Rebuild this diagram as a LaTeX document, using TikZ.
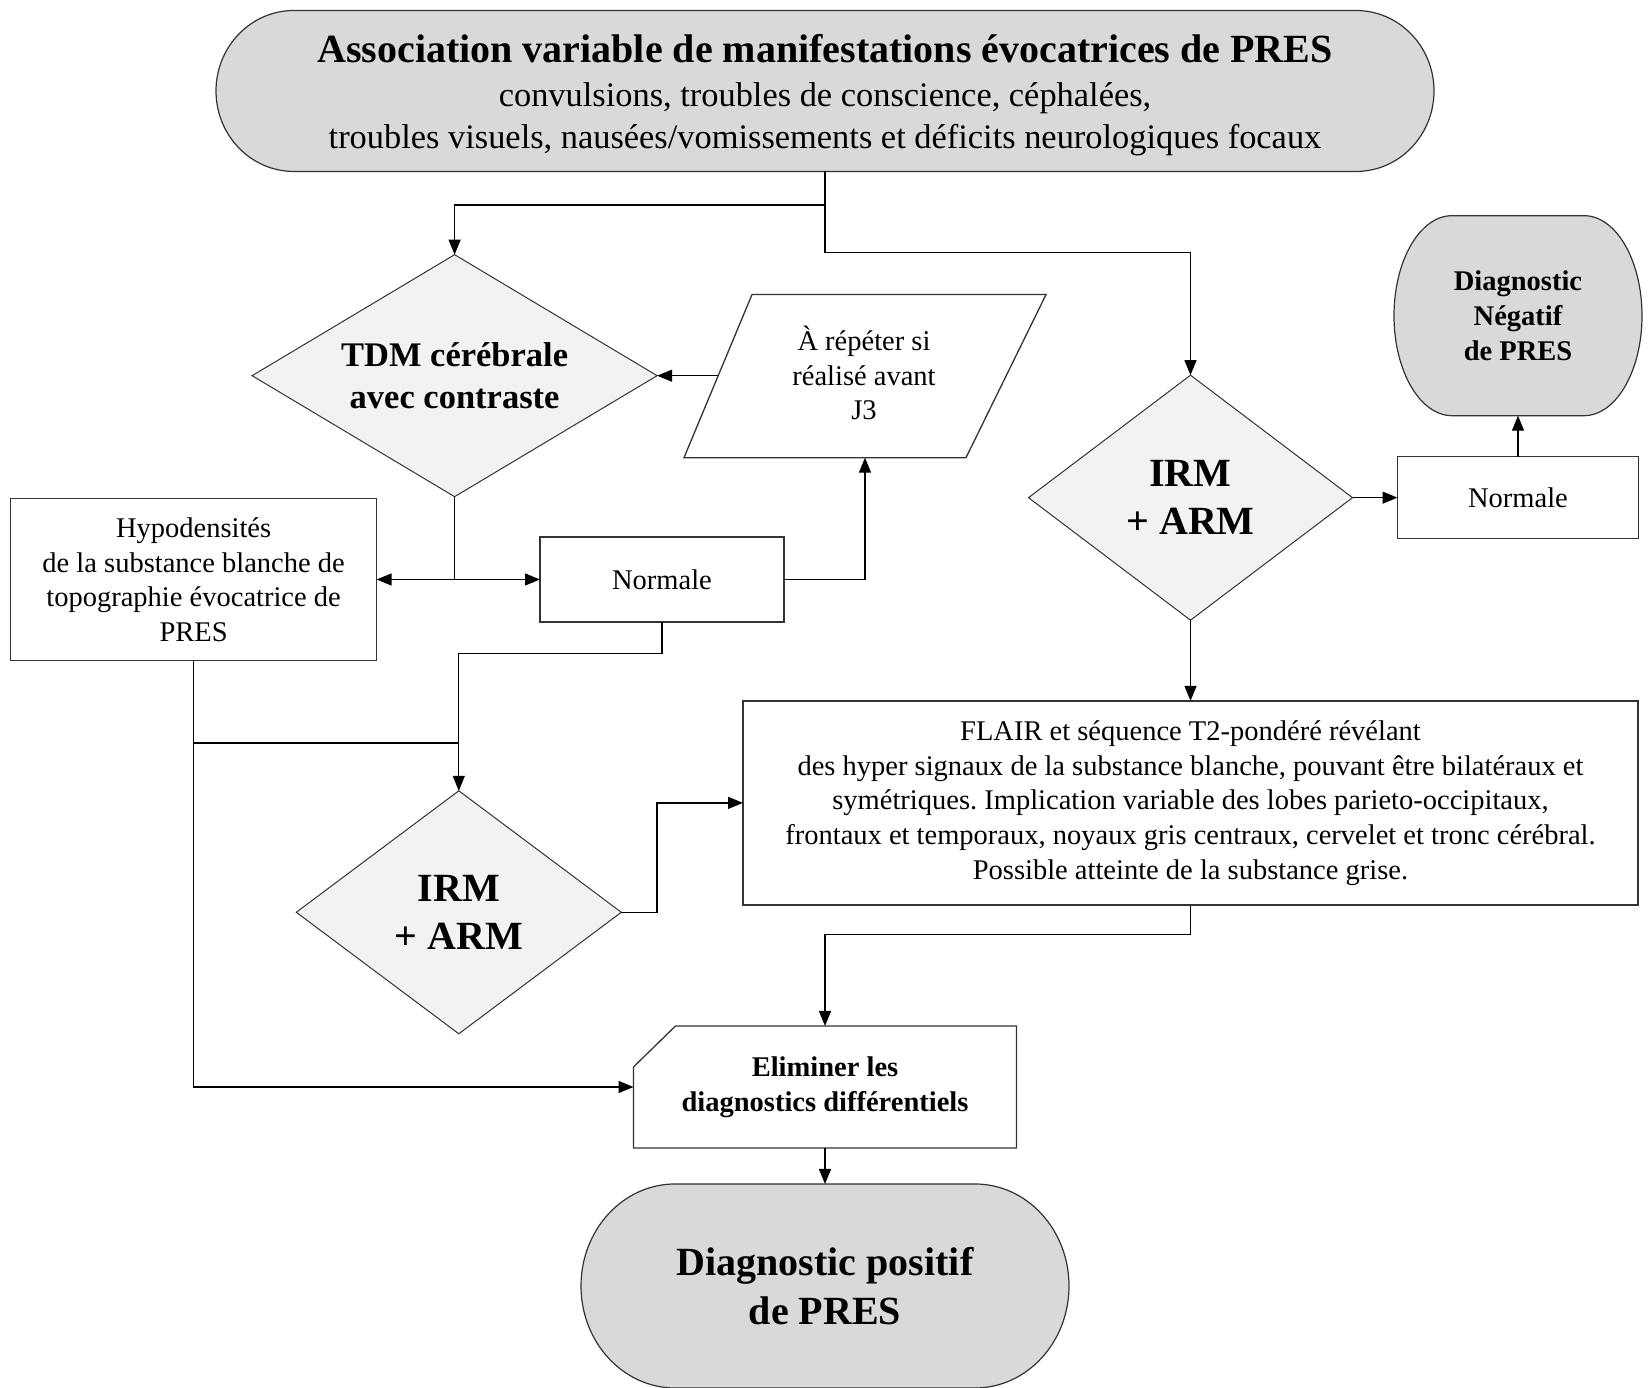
\documentclass[tikz,border=0pt]{standalone}
\usepackage{fontspec}
\setmainfont{Liberation Serif}
\usetikzlibrary{shapes.geometric,arrows.meta,backgrounds}
\definecolor{termgray}{HTML}{D9D9D9}
\definecolor{diagray}{HTML}{F2F2F2}
\frenchspacing
\begin{document}
\begin{tikzpicture}[x=1pt,y=1pt,
  base/.style={inner sep=0pt, outer sep=0pt, align=center, font=\fontsize{28.5}{34.7}\selectfont},
  box/.style={base, rectangle, draw=black!80, line width=1.3pt, fill=white},
  txt/.style={base, rectangle},
  dia/.style={base, diamond, draw=black!80, line width=1pt, fill=diagray},
  shapefill/.style={draw=black!80, line width=1.2pt, fill=termgray},
  whiteshape/.style={draw=black!80, line width=1.3pt, fill=white},
  conn/.style={line width=1.3pt, draw=black},
  arr/.style={conn, -{Triangle[length=15pt,width=12pt]}},
]
\useasboundingbox (0,0) rectangle (1650,1388);

% nodes
\node[txt, minimum width=1218pt, minimum height=161pt, font=\fontsize{34.4}{42}\selectfont] (top) at (825,1293)
  {{\fontsize{40}{45}\selectfont\bfseries Association variable de manifestations évocatrices de PRES}\\[2pt]
   convulsions, troubles de conscience, céphalées,\\
   troubles visuels, nausées/vomissements et déficits neurologiques focaux};

\node[dia, aspect=1.67, minimum width=405pt, minimum height=242pt, font=\fontsize{34.5}{42}\selectfont\bfseries] (tdm) at (454.6,1012.3)
  {TDM cérébrale\\avec contraste};

\coordinate (pTL) at (752,1093.4);
\coordinate (pTR) at (1046,1093.4);
\coordinate (pBR) at (966,930.3);
\coordinate (pBL) at (684,930.3);
\coordinate (pL) at (718,1012.3);
\coordinate (pB) at (865,930.3);
\node[txt] (par) at (864,1015) {À répéter si\\réalisé avant\\J3};

\node[box, minimum width=366pt, minimum height=162pt] (hypo) at (193.6,808.2)
  {Hypodensités\\de la substance blanche de\\topographie évocatrice de\\PRES};
\node[box, minimum width=244pt, minimum height=85pt] (n1) at (662,808.5) {Normale};

\node[dia, aspect=1.32, minimum width=324pt, minimum height=245pt, font=\fontsize{40}{48}\selectfont\bfseries] (irm1) at (1190.5,890.3)
  {IRM\\+ ARM};
\node[box, minimum width=241pt, minimum height=82pt] (n2) at (1518,890.3) {Normale};
\node[txt, minimum width=248pt, minimum height=200pt, font=\fontsize{28.5}{34.7}\selectfont\bfseries] (neg) at (1518,1072.3)
  {Diagnostic\\Négatif\\de PRES};

\node[box, minimum width=895pt, minimum height=204pt] (flair) at (1190.5,585.1)
  {FLAIR et séquence T2-pondéré révélant\\
   des hyper signaux de la substance blanche, pouvant être bilatéraux et\\
   symétriques. Implication variable des lobes parieto-occipitaux,\\
   frontaux et temporaux, noyaux gris centraux, cervelet et tronc cérébral.\\
   Possible atteinte de la substance grise.};

\node[dia, aspect=1.32, minimum width=325pt, minimum height=243pt, font=\fontsize{40}{48}\selectfont\bfseries] (irm2) at (458.8,475.7)
  {IRM\\+ ARM};

\node[txt, minimum width=383pt, minimum height=122pt, font=\fontsize{28.5}{34.7}\selectfont\bfseries] (elim) at (825,301)
  {Eliminer les\\diagnostics différentiels};

\node[txt, minimum width=488pt, minimum height=204pt, font=\fontsize{40}{49.5}\selectfont\bfseries] (pos) at (825,102)
  {Diagnostic positif\\de PRES};

% shapes behind text
\begin{scope}[on background layer]
  \path[shapefill] ([xshift=78pt,yshift=4pt]top.north west) -- ([xshift=-78pt,yshift=4pt]top.north east)
    arc[start angle=90,end angle=-90,x radius=78pt,y radius=80.5pt]
    -- ([xshift=78pt,yshift=4pt]top.south west)
    arc[start angle=270,end angle=90,x radius=78pt,y radius=80.5pt] -- cycle;
  \path[shapefill] ([xshift=58pt]neg.north west) -- ([xshift=-58pt]neg.north east)
    arc[start angle=90,end angle=-90,x radius=58pt,y radius=100pt]
    -- ([xshift=58pt]neg.south west)
    arc[start angle=270,end angle=90,x radius=58pt,y radius=100pt] -- cycle;
  \path[shapefill] ([xshift=94pt]pos.north west) -- ([xshift=-94pt]pos.north east)
    arc[start angle=90,end angle=-90,x radius=94pt,y radius=102pt]
    -- ([xshift=94pt]pos.south west)
    arc[start angle=270,end angle=90,x radius=94pt,y radius=102pt] -- cycle;
  \path[whiteshape] (pTL) -- (pTR) -- (pBR) -- (pBL) -- cycle;
  \path[whiteshape] (elim.south west) -- ([yshift=-41pt]elim.north west)
    -- ([xshift=42pt]elim.north west) -- (elim.north east) -- (elim.south east) -- cycle;
\end{scope}

% connectors
\coordinate (j0) at (825,1183);
\coordinate (j1) at (825,1135.4);
\draw[arr] ([yshift=4pt]top.south) -- (j1) -| (irm1.north);
\draw[arr] (j0) -| (tdm.north);
\draw[arr] (pL) -- (tdm.east);
\coordinate (j2) at (tdm.south |- n1.west);
\draw[conn] (tdm.south) -- (j2);
\draw[arr] (j2) -- (hypo.east |- j2);
\draw[arr] (j2) -- (n1.west);
\draw[arr] (n1.east) -| (pB);
\draw[arr] (n1.south) -- ++(0,-31.5) -| (irm2.north);
\coordinate (j4) at (irm2.north |- 0,645);
\draw[conn] (hypo.south |- j4) -- (j4);
\draw[arr] (hypo.south) |- (elim.west);
\draw[arr] (irm1.east) -- (n2.west);
\draw[arr] (n2.north) -- (neg.south);
\draw[arr] (irm1.south) -- (irm1.south |- flair.north);
\draw[arr] (irm2.east) -- ++(35.7,0) |- (flair.west);
\draw[arr] (flair.south) -- ++(0,-29.4) -| (elim.north);
\draw[arr] (elim.south) -- (pos.north);
\end{tikzpicture}
\end{document}
